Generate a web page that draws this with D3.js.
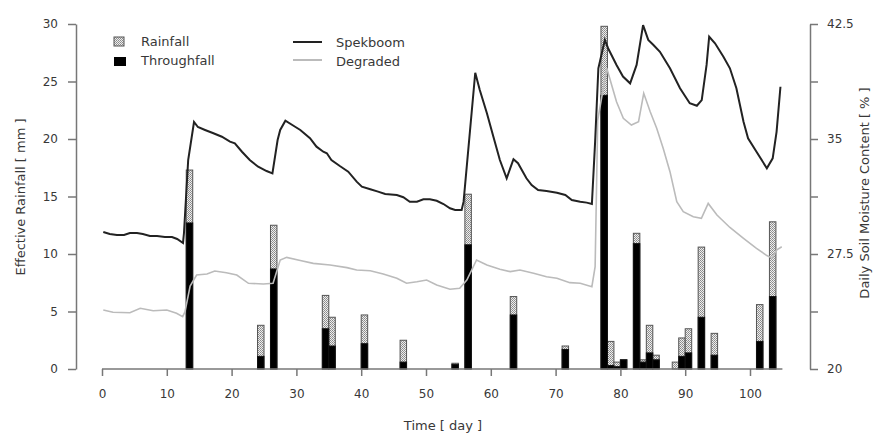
<!DOCTYPE html>
<html>
<head>
<meta charset="utf-8">
<script src="https://cdn.jsdelivr.net/npm/d3@7"></script>
<style>
  body { margin: 0; background: #fff; }
  svg text { font-family: "DejaVu Sans", sans-serif; fill: #383838; }
  .axis path, .axis line { stroke: #777; stroke-width: 1.5; }
  .axis text { font-size: 12px; fill: #383838; }
</style>
</head>
<body>
<svg id="chart" width="876" height="433"></svg>
<script>
// rain events: day, rainfall (mm), throughfall (mm)
var barDays = [13, 24, 26, 34, 35, 40, 46, 54, 56, 63, 71, 77, 78, 79, 80, 82, 83, 84, 85, 88, 89, 90, 92, 94, 101, 103];
var rainfall = [17.3, 3.8, 12.5, 6.4, 4.5, 4.7, 2.5, 0.5, 15.2, 6.3, 2.0, 29.8, 2.4, 0.6, 0.8, 11.8, 0.8, 3.8, 1.2, 0.6, 2.7, 3.5, 10.6, 3.1, 5.6, 12.8];
var throughfall = [12.7, 1.1, 8.7, 3.5, 2.0, 2.2, 0.6, 0.4, 10.8, 4.7, 1.7, 23.8, 0.3, 0.2, 0.8, 10.9, 0.6, 1.4, 0.8, 0, 1.1, 1.4, 4.5, 1.2, 2.4, 6.3];

// soil moisture (%) - Spekboom
var spekDays = [0.2, 1.2, 2.3, 3.4, 4.3, 5.4, 6.3, 7.4, 8.5, 9.7, 10.8, 11.6, 12.5, 12.65, 13.3, 14.2, 14.8, 15.9, 17.1, 18.5,
  19.75, 20.5, 21.6, 22.8, 24.1, 25.4, 26.3, 27.1, 27.5, 28.3, 29.8, 30.6, 32.1, 33.1, 34.15, 34.7, 35.4, 36.7, 38.0, 39.3,
  40.1, 41.4, 42.6, 43.7, 45.5, 46.5, 47.5, 48.6, 49.6, 50.6, 51.65, 52.7, 53.7, 54.5, 55.5, 55.8, 57.6, 58.3, 59.4, 60.4,
  61.4, 62.45, 63.5, 64.2, 65.5, 66.3, 67.3, 68.6, 70.2, 71.5, 72.5, 73.8, 74.8, 75.6, 76.1, 76.6, 77.6, 78.1, 79.4, 80.4,
  81.5, 82.5, 83.5, 84.3, 85.1, 86.1, 87.65, 89.2, 90.7, 91.8, 92.55, 93.3, 93.7, 94.6, 95.9, 96.9, 97.9, 99.0, 99.7, 101.0,
  102.6, 103.5, 104.1, 104.7];
var spekVals = [28.93, 28.80, 28.74, 28.74, 28.87, 28.87, 28.80, 28.67, 28.67, 28.61, 28.61, 28.48, 28.22, 28.87, 33.63, 36.11, 35.78, 35.59, 35.39, 35.15,
  34.83, 34.72, 34.17, 33.63, 33.19, 32.91, 32.76, 34.93, 35.59, 36.19, 35.80, 35.59, 35.05, 34.50, 34.17, 34.07, 33.63, 33.24, 32.87, 32.22,
  31.89, 31.72, 31.57, 31.41, 31.35, 31.20, 30.91, 30.91, 31.07, 31.07, 30.97, 30.76, 30.48, 30.37, 30.37, 30.91, 39.32, 38.20, 36.68, 35.15,
  33.63, 32.44, 33.68, 33.42, 32.44, 32.00, 31.67, 31.61, 31.50, 31.35, 31.02, 30.91, 30.85, 30.76, 34.83, 39.61, 41.46, 40.92, 39.83, 39.07,
  38.63, 39.83, 42.43, 41.46, 41.13, 40.69, 39.61, 38.31, 37.33, 37.17, 37.54, 39.83, 41.67, 41.24, 40.37, 39.61, 38.31, 36.13, 35.05, 34.17,
  33.09, 33.74, 35.47, 38.41];

// soil moisture (%) - Degraded
var degDays = [0.2, 1.7, 4.3, 5.9, 7.9, 10.0, 11.5, 12.45, 12.8, 13.6, 14.6, 16.2, 17.4, 19.2, 20.8, 22.6, 24.9, 26.4, 27.5, 28.5,
  30.6, 32.6, 35.2, 37.8, 39.3, 41.4, 43.4, 45.5, 47.0, 48.6, 50.1, 51.65, 53.7, 55.2, 56.3, 57.8, 59.4, 61.4, 63.0, 64.5,
  66.6, 68.6, 70.2, 72.2, 73.8, 75.6, 76.1, 76.5, 77.9, 79.4, 80.45, 81.7, 82.8, 83.6, 84.6, 85.6, 86.6, 87.65, 88.7, 89.7,
  91.25, 92.5, 93.55, 94.9, 96.9, 99.0, 101.0, 102.6, 103.4, 104.1, 104.9];
var degVals = [23.85, 23.70, 23.67, 23.96, 23.80, 23.85, 23.63, 23.41, 23.72, 25.41, 26.13, 26.20, 26.39, 26.28, 26.13, 25.59, 25.54, 25.59, 27.11, 27.28,
  27.08, 26.89, 26.78, 26.61, 26.46, 26.41, 26.20, 25.92, 25.59, 25.69, 25.80, 25.48, 25.20, 25.26, 25.80, 27.11, 26.78, 26.50, 26.35, 26.46,
  26.24, 26.02, 25.92, 25.63, 25.59, 25.37, 26.67, 36.24, 39.61, 37.43, 36.35, 35.91, 36.13, 37.98, 36.78, 35.70, 34.39, 32.87, 30.91, 30.26,
  29.93, 29.83, 30.80, 30.04, 29.23, 28.52, 27.87, 27.40, 27.24, 27.76, 27.97];

var xTicks = [0, 10, 20, 30, 40, 50, 60, 70, 80, 90, 100];
var yLeftTicks = [0, 5, 10, 15, 20, 25, 30];
var yRightTicks = [20, 23.75, 27.5, 31.25, 35, 38.75, 42.5];
var yRightLabels = ["20", "", "27.5", "", "35", "", "42.5"];

var svg = d3.select("#chart");

var x = d3.scaleLinear().domain([0, 100]).range([102, 750]),
    yL = d3.scaleLinear().domain([0, 30]).range([369, 24]),
    yR = d3.scaleLinear().domain([20, 42.5]).range([369, 24]);

// dotted fill for rainfall
var pat = svg.append("defs").append("pattern")
    .attr("id", "dots")
    .attr("width", 2).attr("height", 2)
    .attr("patternUnits", "userSpaceOnUse");
pat.append("rect").attr("width", 2).attr("height", 2).attr("fill", "#eee");
pat.append("rect").attr("width", 1).attr("height", 1).attr("fill", "#888");
pat.append("rect").attr("x", 1).attr("y", 1).attr("width", 1).attr("height", 1).attr("fill", "#999");

var bars = barDays.map(function(d, i) { return {day: d, rain: rainfall[i], tf: throughfall[i]}; });

svg.append("g").selectAll("rect")
  .data(bars)
  .enter().append("rect")
    .attr("x", function(d) { return x(d.day); })
    .attr("width", x(1) - x(0))
    .attr("y", function(d) { return yL(d.rain); })
    .attr("height", function(d) { return yL(0) - yL(d.rain); })
    .attr("fill", "url(#dots)")
    .attr("stroke", "#555")
    .attr("stroke-width", 1);

svg.append("g").selectAll("rect")
  .data(bars.filter(function(d) { return d.tf > 0; }))
  .enter().append("rect")
    .attr("x", function(d) { return x(d.day); })
    .attr("width", x(1) - x(0))
    .attr("y", function(d) { return yL(d.tf); })
    .attr("height", function(d) { return yL(0) - yL(d.tf); })
    .attr("fill", "#000")
    .attr("stroke", "#111")
    .attr("stroke-width", 1);

var line = d3.line()
    .x(function(d) { return x(d[0]); })
    .y(function(d) { return yR(d[1]); });

svg.append("path")
    .datum(d3.zip(degDays, degVals))
    .attr("d", line)
    .attr("fill", "none")
    .attr("stroke", "#bbb")
    .attr("stroke-width", 1.6);

svg.append("path")
    .datum(d3.zip(spekDays, spekVals))
    .attr("d", line)
    .attr("fill", "none")
    .attr("stroke", "#222")
    .attr("stroke-width", 2);

// axes
var gx = svg.append("g")
    .attr("class", "axis")
    .attr("transform", "translate(0," + yL(0) + ")")
    .call(d3.axisBottom(x).tickValues(xTicks).tickSize(7).tickSizeOuter(0).tickPadding(13));
gx.select(".domain").attr("d", "M" + x(0) + ",0H" + x(105));

svg.append("g")
    .attr("class", "axis")
    .attr("transform", "translate(76,0)")
    .call(d3.axisLeft(yL).tickValues(yLeftTicks).tickSize(8).tickSizeOuter(0).tickPadding(10));

svg.append("g")
    .attr("class", "axis")
    .attr("transform", "translate(810,0)")
    .call(d3.axisRight(yR).tickValues(yRightTicks).tickSize(8).tickSizeOuter(0).tickPadding(9)
      .tickFormat(function(d, i) { return yRightLabels[i]; }));

svg.selectAll(".axis .domain").attr("fill", "none");

// titles
svg.append("text")
    .attr("x", 443).attr("y", 430)
    .attr("text-anchor", "middle")
    .style("font-size", "13px")
    .text("Time [ day ]");

svg.append("text")
    .attr("transform", "translate(25,197) rotate(-90)")
    .attr("text-anchor", "middle")
    .style("font-size", "13px")
    .text("Effective Rainfall [ mm ]");

svg.append("text")
    .attr("transform", "translate(869,193) rotate(-90)")
    .attr("text-anchor", "middle")
    .style("font-size", "13px")
    .text("Daily Soil Moisture Content [ % ]");

// legend
var leg = svg.append("g").style("font-size", "13px");
leg.append("rect").attr("x", 114).attr("y", 37).attr("width", 10).attr("height", 9)
    .attr("fill", "url(#dots)").attr("stroke", "#555");
leg.append("rect").attr("x", 114).attr("y", 57).attr("width", 12).attr("height", 9)
    .attr("fill", "#000");
leg.append("text").attr("x", 141).attr("y", 46).text("Rainfall");
leg.append("text").attr("x", 141).attr("y", 65).text("Throughfall");

leg.append("line").attr("x1", 293).attr("x2", 322).attr("y1", 42).attr("y2", 42)
    .attr("stroke", "#222").attr("stroke-width", 2);
leg.append("line").attr("x1", 293).attr("x2", 322).attr("y1", 60).attr("y2", 60)
    .attr("stroke", "#bbb").attr("stroke-width", 2);
leg.append("text").attr("x", 336).attr("y", 47).text("Spekboom");
leg.append("text").attr("x", 336).attr("y", 66).text("Degraded");
</script>
</body>
</html>
